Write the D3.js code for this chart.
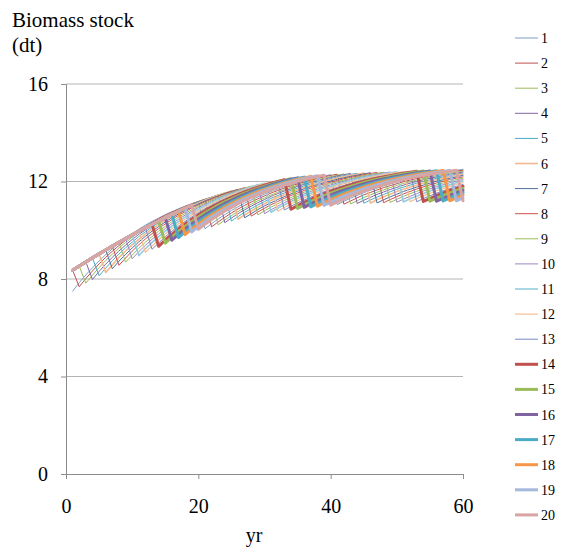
<!DOCTYPE html>
<html>
<head>
<meta charset="utf-8">
<script src="https://cdn.jsdelivr.net/npm/d3@7/dist/d3.min.js"></script>
<style>
  html, body { margin: 0; padding: 0; background: #ffffff; }
  svg { display: block; }
  text { font-family: "Liberation Serif", "Times New Roman", serif; fill: #000; }
</style>
</head>
<body>
<svg id="chart" width="563" height="550"></svg>
<script>
// Years on the horizontal axis
const years = d3.range(1, 61);

// Biomass stock (dt) per year for each of the 20 series
const s1 = [7.50,7.85,8.17,8.46,8.74,9.00,9.24,9.46,9.67,9.86,10.04,10.21,10.36,10.50,10.64,10.76,10.88,10.99,11.09,11.18,10.06,10.27,10.46,10.64,10.81,10.96,11.11,11.24,11.37,11.48,11.59,11.69,11.79,11.87,11.95,12.03,12.10,12.17,12.23,12.28,11.05,11.19,11.31,11.43,11.54,11.64,11.73,11.82,11.90,11.98,12.05,12.12,12.18,12.23,12.29,12.34,12.38,12.43,12.46,12.50];
const s2 = [8.36,7.68,8.02,8.33,8.62,8.89,9.14,9.37,9.59,9.80,9.98,10.16,10.32,10.47,10.61,10.74,10.86,10.98,11.08,11.18,11.27,10.14,10.34,10.53,10.71,10.87,11.02,11.16,11.29,11.41,11.53,11.63,11.73,11.82,11.90,11.98,12.06,12.12,12.19,12.25,12.30,11.07,11.20,11.33,11.45,11.55,11.65,11.75,11.83,11.91,11.99,12.06,12.12,12.18,12.24,12.29,12.34,12.38,12.43,12.46];
const s3 = [8.36,8.53,7.83,8.16,8.47,8.76,9.02,9.27,9.50,9.71,9.91,10.09,10.27,10.43,10.57,10.71,10.84,10.96,11.07,11.18,11.27,11.36,10.22,10.42,10.60,10.77,10.92,11.07,11.21,11.33,11.45,11.56,11.66,11.76,11.84,11.93,12.00,12.07,12.14,12.20,12.26,12.31,11.08,11.21,11.34,11.45,11.56,11.66,11.75,11.84,11.92,11.99,12.06,12.12,12.18,12.24,12.29,12.34,12.38,12.43];
const s4 = [8.36,8.53,8.70,7.98,8.31,8.61,8.89,9.15,9.39,9.62,9.83,10.02,10.20,10.37,10.53,10.68,10.81,10.94,11.06,11.17,11.27,11.36,11.45,10.31,10.50,10.68,10.84,10.99,11.13,11.26,11.39,11.50,11.61,11.70,11.80,11.88,11.96,12.03,12.10,12.16,12.23,12.28,12.33,11.10,11.23,11.35,11.47,11.57,11.67,11.76,11.85,11.93,12.00,12.07,12.13,12.19,12.24,12.29,12.34,12.39];
const s5 = [8.36,8.53,8.70,8.87,8.13,8.45,8.75,9.02,9.28,9.51,9.74,9.94,10.13,10.31,10.48,10.63,10.77,10.90,11.03,11.15,11.25,11.35,11.45,11.53,10.38,10.56,10.74,10.89,11.04,11.18,11.31,11.42,11.53,11.64,11.73,11.82,11.90,11.98,12.05,12.12,12.18,12.24,12.29,12.34,11.11,11.24,11.36,11.47,11.58,11.68,11.77,11.85,11.93,12.00,12.07,12.13,12.19,12.24,12.30,12.34];
const s6 = [8.36,8.53,8.70,8.87,9.03,8.27,8.58,8.88,9.15,9.40,9.63,9.85,10.05,10.24,10.41,10.58,10.73,10.87,11.00,11.12,11.23,11.34,11.44,11.53,11.61,10.45,10.63,10.79,10.95,11.09,11.22,11.35,11.46,11.57,11.67,11.76,11.85,11.93,12.00,12.07,12.14,12.19,12.25,12.30,12.35,11.12,11.25,11.37,11.48,11.59,11.68,11.77,11.85,11.93,12.01,12.07,12.13,12.19,12.25,12.30];
const s7 = [8.36,8.53,8.70,8.87,9.03,9.19,8.42,8.73,9.01,9.27,9.52,9.75,9.96,10.15,10.34,10.51,10.67,10.82,10.95,11.08,11.20,11.31,11.41,11.51,11.60,11.68,10.51,10.68,10.85,11.00,11.13,11.26,11.38,11.49,11.60,11.70,11.79,11.87,11.95,12.02,12.09,12.15,12.21,12.26,12.31,12.36,11.12,11.25,11.37,11.48,11.59,11.68,11.77,11.85,11.93,12.01,12.07,12.13,12.19,12.25];
const s8 = [8.36,8.53,8.70,8.87,9.03,9.19,9.35,8.56,8.86,9.14,9.40,9.64,9.86,10.07,10.26,10.44,10.61,10.76,10.91,11.04,11.16,11.28,11.39,11.49,11.58,11.67,11.75,10.58,10.75,10.90,11.05,11.18,11.31,11.43,11.53,11.63,11.73,11.82,11.90,11.97,12.04,12.11,12.17,12.22,12.28,12.33,12.37,11.13,11.26,11.38,11.49,11.59,11.69,11.78,11.86,11.94,12.01,12.08,12.14,12.19];
const s9 = [8.36,8.53,8.70,8.87,9.03,9.19,9.35,9.51,8.69,8.98,9.26,9.51,9.74,9.96,10.16,10.35,10.53,10.69,10.84,10.98,11.11,11.24,11.35,11.46,11.55,11.65,11.73,11.81,10.63,10.80,10.95,11.09,11.22,11.34,11.46,11.56,11.66,11.75,11.84,11.92,11.99,12.06,12.12,12.18,12.24,12.29,12.34,12.38,11.14,11.27,11.39,11.50,11.60,11.69,11.78,11.86,11.94,12.01,12.08,12.14];
const s10 = [8.36,8.53,8.70,8.87,9.03,9.19,9.35,9.51,9.66,8.83,9.12,9.38,9.63,9.85,10.07,10.27,10.45,10.62,10.78,10.93,11.06,11.19,11.31,11.42,11.53,11.62,11.71,11.79,11.87,10.68,10.84,10.99,11.13,11.26,11.38,11.49,11.59,11.69,11.78,11.86,11.94,12.01,12.08,12.14,12.20,12.25,12.30,12.35,12.39,11.15,11.28,11.39,11.50,11.61,11.70,11.79,11.87,11.95,12.02,12.08];
const s11 = [8.36,8.53,8.70,8.87,9.03,9.19,9.35,9.51,9.66,9.81,8.96,9.24,9.50,9.74,9.96,10.17,10.36,10.54,10.71,10.86,11.01,11.14,11.27,11.38,11.49,11.59,11.69,11.78,11.86,11.93,10.74,10.90,11.04,11.18,11.30,11.42,11.52,11.62,11.72,11.80,11.89,11.96,12.03,12.10,12.16,12.21,12.26,12.31,12.36,12.40,11.16,11.29,11.40,11.51,11.61,11.71,11.79,11.87,11.95,12.02];
const s12 = [8.36,8.53,8.70,8.87,9.03,9.19,9.35,9.51,9.66,9.81,9.96,9.09,9.36,9.61,9.85,10.06,10.27,10.45,10.63,10.79,10.94,11.08,11.21,11.34,11.45,11.56,11.65,11.74,11.83,11.91,11.98,10.78,10.93,11.08,11.21,11.33,11.44,11.55,11.65,11.74,11.83,11.91,11.98,12.05,12.11,12.17,12.23,12.28,12.33,12.37,12.41,11.17,11.30,11.41,11.52,11.62,11.71,11.80,11.88,11.95];
const s13 = [8.36,8.53,8.70,8.87,9.03,9.19,9.35,9.51,9.66,9.81,9.96,10.10,9.22,9.48,9.73,9.96,10.17,10.36,10.55,10.72,10.88,11.02,11.16,11.29,11.40,11.51,11.62,11.71,11.80,11.88,11.96,12.03,10.83,10.98,11.12,11.24,11.36,11.47,11.58,11.67,11.76,11.84,11.92,11.99,12.06,12.12,12.18,12.23,12.28,12.33,12.37,12.41,11.17,11.30,11.41,11.52,11.62,11.71,11.80,11.88];
const s14 = [8.36,8.53,8.70,8.87,9.03,9.19,9.35,9.51,9.66,9.81,9.96,10.10,10.24,9.34,9.60,9.83,10.06,10.26,10.45,10.63,10.79,10.95,11.09,11.22,11.35,11.46,11.57,11.67,11.76,11.85,11.93,12.00,12.07,10.86,11.01,11.14,11.27,11.39,11.50,11.60,11.69,11.78,11.86,11.94,12.01,12.07,12.13,12.19,12.24,12.29,12.34,12.38,12.42,11.18,11.30,11.42,11.53,11.63,11.72,11.80];
const s15 = [8.36,8.53,8.70,8.87,9.03,9.19,9.35,9.51,9.66,9.81,9.96,10.10,10.24,10.38,9.47,9.72,9.95,10.16,10.36,10.54,10.72,10.87,11.03,11.16,11.29,11.41,11.52,11.62,11.72,11.81,11.89,11.97,12.04,12.11,10.90,11.04,11.18,11.30,11.42,11.52,11.62,11.71,11.80,11.88,11.96,12.03,12.09,12.15,12.21,12.26,12.31,12.35,12.39,12.43,11.19,11.31,11.43,11.53,11.63,11.72];
const s16 = [8.36,8.53,8.70,8.87,9.03,9.19,9.35,9.51,9.66,9.81,9.96,10.10,10.24,10.38,10.52,9.59,9.83,10.05,10.26,10.45,10.63,10.80,10.95,11.10,11.23,11.36,11.47,11.58,11.68,11.77,11.86,11.94,12.02,12.09,12.15,10.94,11.08,11.21,11.33,11.44,11.55,11.64,11.73,11.82,11.90,11.97,12.04,12.10,12.16,12.21,12.26,12.31,12.35,12.39,12.43,11.19,11.31,11.43,11.53,11.63];
const s17 = [8.36,8.53,8.70,8.87,9.03,9.19,9.35,9.51,9.66,9.81,9.96,10.10,10.24,10.38,10.52,10.65,9.70,9.93,10.15,10.35,10.54,10.71,10.87,11.02,11.16,11.29,11.41,11.52,11.63,11.72,11.82,11.90,11.98,12.05,12.12,12.18,10.96,11.10,11.23,11.35,11.46,11.56,11.66,11.75,11.83,11.91,11.98,12.05,12.11,12.17,12.22,12.27,12.32,12.36,12.40,12.44,11.20,11.32,11.44,11.54];
const s18 = [8.36,8.53,8.70,8.87,9.03,9.19,9.35,9.51,9.66,9.81,9.96,10.10,10.24,10.38,10.52,10.65,10.78,9.82,10.05,10.25,10.45,10.63,10.79,10.95,11.09,11.23,11.35,11.47,11.58,11.68,11.77,11.86,11.94,12.01,12.09,12.15,12.21,10.99,11.13,11.25,11.37,11.48,11.58,11.68,11.77,11.85,11.93,12.00,12.06,12.12,12.18,12.24,12.29,12.33,12.37,12.41,12.45,11.21,11.33,11.44];
const s19 = [8.36,8.53,8.70,8.87,9.03,9.19,9.35,9.51,9.66,9.81,9.96,10.10,10.24,10.38,10.52,10.65,10.78,10.91,9.93,10.15,10.35,10.54,10.71,10.87,11.02,11.16,11.29,11.41,11.52,11.63,11.73,11.82,11.90,11.98,12.05,12.12,12.18,12.24,11.02,11.15,11.28,11.40,11.50,11.60,11.70,11.78,11.86,11.94,12.01,12.07,12.13,12.19,12.24,12.29,12.33,12.38,12.41,12.45,11.21,11.33];
const s20 = [8.36,8.53,8.70,8.87,9.03,9.19,9.35,9.51,9.66,9.81,9.96,10.10,10.24,10.38,10.52,10.65,10.78,10.91,11.03,10.04,10.25,10.44,10.62,10.79,10.94,11.09,11.22,11.35,11.46,11.57,11.67,11.77,11.85,11.93,12.01,12.08,12.15,12.21,12.26,11.03,11.16,11.29,11.41,11.51,11.61,11.71,11.79,11.87,11.95,12.02,12.08,12.14,12.20,12.25,12.30,12.34,12.39,12.42,12.46,11.21];

const seriesNames = ["1","2","3","4","5","6","7","8","9","10","11","12","13","14","15","16","17","18","19","20"];
const seriesValues = [s1,s2,s3,s4,s5,s6,s7,s8,s9,s10,s11,s12,s13,s14,s15,s16,s17,s18,s19,s20];

// Line colours and widths, one per series
const seriesColors = ["#7f9ec6","#c0504d","#9bbb59","#8064a2","#4bacc6","#f2b98e","#4f6f9c","#d0504d","#9bbb59","#9b85c0","#93cddd","#f8be90","#7887c2","#c0504d","#9bbb59","#8064a2","#4bacc6","#f79646","#a4b9dc","#d9a5a4"];
const seriesWidths = [1,1,1,1,1,1.6,1,1,1,1,1.6,1.2,1,3,3,3,3,3,3,3];

const yTicks = [0, 4, 8, 12, 16];
const xTicks = [0, 20, 40, 60];

const svg = d3.select("#chart");
const plot = { left: 66, right: 463, top: 84, bottom: 474 };

const x = d3.scaleLinear().domain([0, 60]).range([plot.left, plot.right]);
const y = d3.scaleLinear().domain([0, 16]).range([plot.bottom, plot.top]);

// Horizontal gridlines
svg.append("g")
  .selectAll("line")
  .data(yTicks.filter(d => d > 0))
  .join("line")
  .attr("x1", plot.left).attr("x2", plot.right)
  .attr("y1", d => y(d)).attr("y2", d => y(d))
  .attr("stroke", "#b4b4b4").attr("stroke-width", 1);

// Y axis
const yAxis = svg.append("g")
  .attr("transform", `translate(${plot.left},0)`)
  .call(d3.axisLeft(y).tickValues(yTicks).tickSize(5).tickPadding(13));
yAxis.select(".domain").attr("stroke", "#8c8c8c");
yAxis.selectAll(".tick line").attr("stroke", "#8c8c8c");
yAxis.selectAll(".tick text")
  .style("font-family", "'Liberation Serif', 'Times New Roman', serif")
  .style("font-size", "20px").attr("fill", "#000");

// X axis
const xAxis = svg.append("g")
  .attr("transform", `translate(0,${plot.bottom})`)
  .call(d3.axisBottom(x).tickValues(xTicks).tickSize(5).tickPadding(20));
xAxis.select(".domain").attr("stroke", "#8c8c8c");
xAxis.selectAll(".tick line").attr("stroke", "#8c8c8c");
xAxis.selectAll(".tick text")
  .style("font-family", "'Liberation Serif', 'Times New Roman', serif")
  .style("font-size", "20px").attr("fill", "#000");

// Series lines, drawn from 1 up to 20
const line = d3.line()
  .x((d, i) => x(years[i]))
  .y(d => y(d));

svg.append("g")
  .selectAll("path")
  .data(seriesValues)
  .join("path")
  .attr("d", d => line(d))
  .attr("fill", "none")
  .attr("stroke", (d, i) => seriesColors[i])
  .attr("stroke-width", (d, i) => seriesWidths[i])
  .attr("stroke-linejoin", "round")
  .attr("stroke-linecap", "round");

// Axis titles
svg.append("text").attr("x", 12).attr("y", 27)
  .style("font-size", "21px").text("Biomass stock");
svg.append("text").attr("x", 12).attr("y", 52)
  .style("font-size", "21px").text("(dt)");
svg.append("text").attr("x", 254).attr("y", 542)
  .attr("text-anchor", "middle")
  .style("font-size", "20px").text("yr");

// Legend
const legend = svg.append("g")
  .selectAll("g")
  .data(seriesNames)
  .join("g")
  .attr("transform", (d, i) => `translate(515,${38 + i * 25.1})`);
legend.append("line")
  .attr("x1", 0).attr("x2", 23)
  .attr("stroke", (d, i) => seriesColors[i])
  .attr("stroke-width", (d, i) => seriesWidths[i]);
legend.append("text")
  .attr("x", 26).attr("y", 5)
  .style("font-size", "14px")
  .text(d => d);
</script>
</body>
</html>
